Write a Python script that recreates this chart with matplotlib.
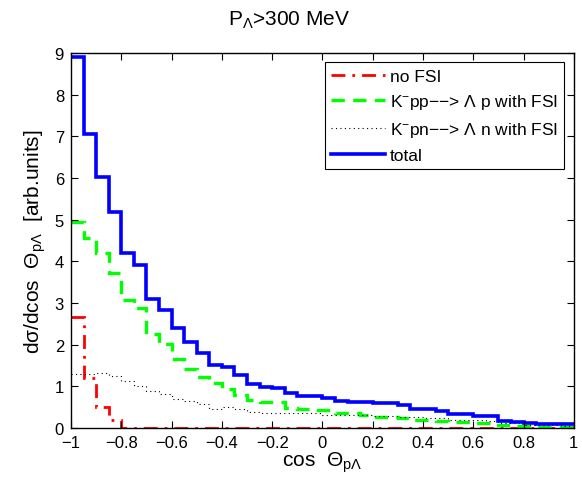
import numpy as np
import matplotlib
matplotlib.use("Agg")
import matplotlib.pyplot as plt

plt.rcParams['font.family'] = ['Liberation Sans', 'DejaVu Sans']
plt.rcParams['mathtext.fontset'] = 'custom'
plt.rcParams['mathtext.rm'] = 'Liberation Sans'
plt.rcParams['mathtext.it'] = 'Liberation Sans:italic'
plt.rcParams['mathtext.sf'] = 'Liberation Sans'

# bin edges: cos(theta) from -1 to 1, 40 bins
bin_edges = np.linspace(-1, 1, 41)

no_fsi = [2.67, 1.19, 0.50, 0.20] + [0.0] * 36

kpp_fsi = [4.95, 4.55, 4.20, 3.73, 3.06, 2.89, 2.25, 2.01, 1.65, 1.41,
           1.23, 1.08, 0.93, 0.80, 0.68, 0.63, 0.63, 0.47, 0.46, 0.44,
           0.42, 0.35, 0.35, 0.30, 0.27, 0.26, 0.25, 0.20, 0.20, 0.16,
           0.15, 0.15, 0.11, 0.11, 0.07, 0.05, 0.04, 0.03, 0.03, 0.02]

kpn_fsi = [1.29, 1.30, 1.33, 1.25, 1.13, 1.01, 0.88, 0.82, 0.70, 0.65,
           0.58, 0.46, 0.50, 0.45, 0.38, 0.37, 0.37, 0.35, 0.35, 0.35,
           0.32, 0.32, 0.30, 0.30, 0.28, 0.28, 0.26, 0.26, 0.25, 0.24,
           0.20, 0.20, 0.18, 0.16, 0.13, 0.11, 0.08, 0.07, 0.06, 0.05]

total = [8.90, 7.05, 6.03, 5.19, 4.19, 3.91, 3.09, 2.83, 2.39, 2.07,
         1.80, 1.51, 1.46, 1.28, 1.06, 0.98, 0.95, 0.84, 0.76, 0.76,
         0.71, 0.65, 0.63, 0.63, 0.60, 0.60, 0.54, 0.45, 0.45, 0.40,
         0.33, 0.33, 0.28, 0.28, 0.17, 0.15, 0.12, 0.09, 0.09, 0.09]

labels = ['no FSI',
          r'K$^{-}$pp−−> Λ p with FSI',
          r'K$^{-}$pn−−> Λ n with FSI',
          'total']

x_ticks = np.arange(-1, 1.01, 0.2)
y_ticks = np.arange(0, 10, 1)

fig = plt.figure(figsize=(5.82, 4.89), dpi=100)
ax = fig.add_axes([0.122, 0.1227, 0.864, 0.767])

ax.stairs(no_fsi, bin_edges, color='red', lw=2.0, linestyle=(0, (5, 2.5, 1, 2.5)), label=labels[0], baseline=None)
ax.stairs(kpp_fsi, bin_edges, color='#00ff00', lw=2.4, linestyle=(0, (4, 2.5)), label=labels[1], baseline=None)
ax.stairs(kpn_fsi, bin_edges, color='black', lw=0.8, linestyle=(0, (1, 3)), label=labels[2], baseline=None)
ax.stairs(total, bin_edges, color='blue', lw=2.6, linestyle='-', label=labels[3], baseline=None)

ax.set_xlim(-1, 1)
ax.set_ylim(0, 9)
ax.set_xticks(x_ticks)
ax.set_xticklabels(['−1' if abs(v + 1) < 1e-9 else ('1' if abs(v - 1) < 1e-9 else ('0' if abs(v) < 1e-9 else f'{v:.1f}'.replace('-', '−'))) for v in x_ticks])
ax.set_yticks(y_ticks)
ax.tick_params(direction='in', top=True, right=True, length=5, width=0.8, labelsize=12)
ax.tick_params(axis='x', pad=5)
ax.tick_params(axis='y', pad=5)
for s in ax.spines.values():
    s.set_linewidth(1.0)

ax.set_xlabel(r'cos  $\Theta_{\mathrm{p}\Lambda}$', fontsize=15, labelpad=0)
ax.set_ylabel(r'dσ/dcos  $\Theta_{\mathrm{p}\Lambda}$  [arb.units]', fontsize=15, labelpad=5)
fig.text(0.497, 0.958, r'P$_{\Lambda}$>300 MeV', fontsize=15, ha='center', va='center')

leg = ax.legend(loc='upper right', fontsize=12.5, frameon=True, fancybox=False,
                edgecolor='black', framealpha=1, handlelength=3.1, handletextpad=0.3,
                borderpad=0.35, labelspacing=0.5, borderaxespad=0.55)
leg.get_frame().set_linewidth(0.8)

fig.savefig('out.png', dpi=100)
